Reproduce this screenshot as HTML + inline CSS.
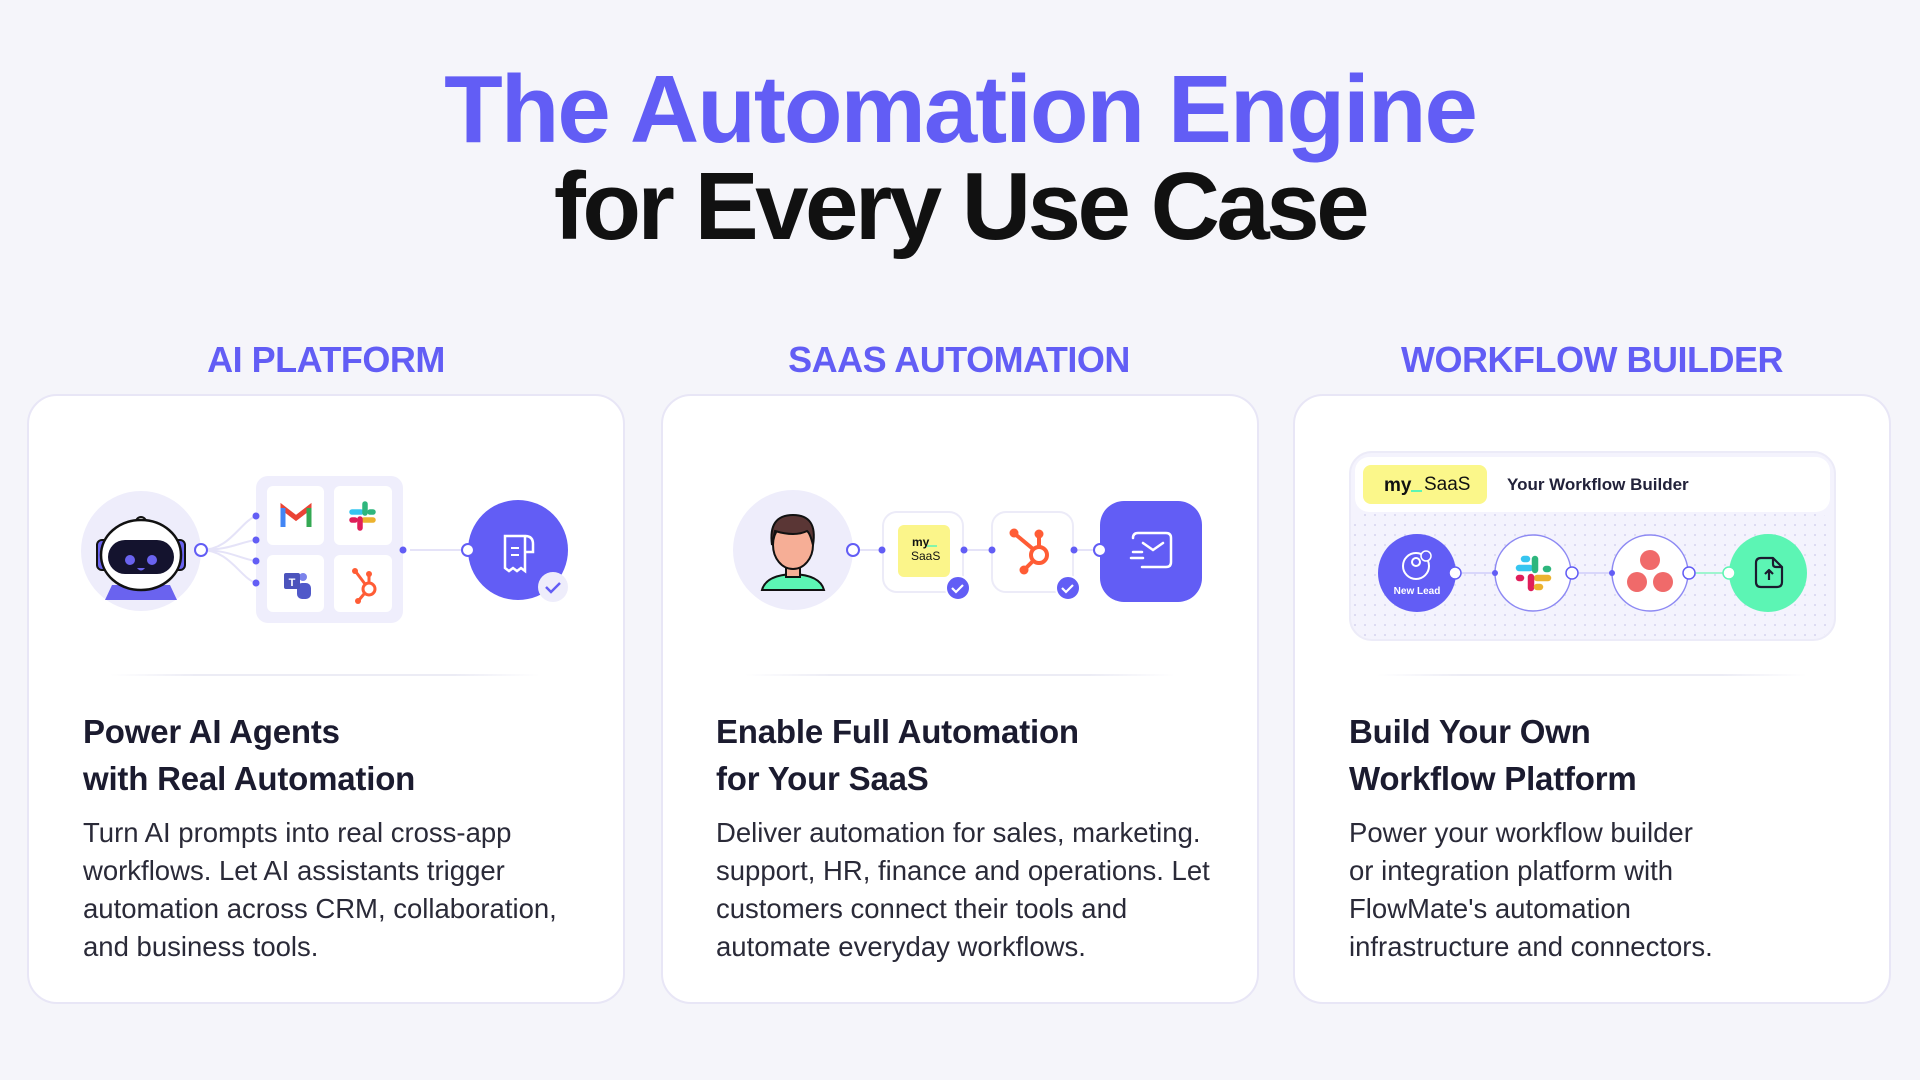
<!DOCTYPE html>
<html><head><meta charset="utf-8"><style>
*{margin:0;padding:0;box-sizing:border-box}
body{width:1920px;height:1080px;background:#f5f5fa;font-family:"Liberation Sans",sans-serif;position:relative;overflow:hidden}
.t{position:absolute;white-space:nowrap}
.title{left:0;width:1920px;text-align:center;font-weight:bold;font-size:96px;letter-spacing:-2px}
.sec{font-weight:bold;font-size:36px;color:#625df5;width:600px;text-align:center;letter-spacing:-0.5px}
.card{position:absolute;top:394px;width:598px;height:610px;background:#fff;border:2px solid #e8e6f6;border-radius:30px}
.h{font-weight:bold;font-size:33px;color:#1b1b2f;line-height:47px;letter-spacing:-0.2px}
.b{font-size:27.5px;color:#2a2a38;line-height:38px}
.div{position:absolute;top:674px;height:2px;background:linear-gradient(90deg,rgba(238,238,246,0),#ececf5 20%,#ececf5 80%,rgba(238,238,246,0))}
</style></head><body>
<div class="t title" style="top:55px;color:#625df5">The Automation Engine</div>
<div class="t title" style="top:152px;color:#111;letter-spacing:-3.5px">for Every Use Case</div>
<div class="t sec" style="left:26px;top:339px">AI PLATFORM</div>
<div class="t sec" style="left:659px;top:339px">SAAS AUTOMATION</div>
<div class="t sec" style="left:1292px;top:339px">WORKFLOW BUILDER</div>

<div class="card" style="left:27px"></div>
<div class="card" style="left:661px"></div>
<div class="card" style="left:1293px"></div>
<div class="div" style="left:110px;width:430px"></div>
<div class="div" style="left:745px;width:430px"></div>
<div class="div" style="left:1377px;width:430px"></div>

<svg style="position:absolute;left:0;top:0" width="1920" height="1080">
<defs>
<pattern id="dots" width="10" height="10" patternUnits="userSpaceOnUse"><circle cx="5" cy="5" r="1" fill="#d6d3ee"/></pattern>
</defs>
<!-- card1 -->
<circle cx="141" cy="551" r="60" fill="#eeedfb"/>
<g>
<rect x="97" y="540" width="12" height="30" rx="5" fill="#6a63ef" stroke="#111" stroke-width="2"/>
<rect x="173" y="540" width="12" height="30" rx="5" fill="#6a63ef" stroke="#111" stroke-width="2"/>
<path d="M105 600 L112 585 L170 585 L177 600 Z" fill="#6a63ef"/>
<circle cx="141" cy="522" r="5" fill="#fff" stroke="#111" stroke-width="2"/>
<ellipse cx="141" cy="555" rx="40" ry="35" fill="#fff" stroke="#111" stroke-width="2.5"/>
<rect x="108" y="540" width="66" height="34" rx="17" fill="#14132e"/>
<circle cx="130" cy="560" r="5" fill="#6a63ef"/><circle cx="152" cy="560" r="5" fill="#6a63ef"/>
<path d="M137 568 q4 5 8 0" fill="#6a63ef"/>
</g>
<path d="M201 550 C230 550 240 522 256 516 M201 550 C230 550 240 542 256 540 M201 550 C230 550 240 559 256 561 M201 550 C230 550 240 578 256 583" stroke="#e5e3f8" stroke-width="2" fill="none"/>
<circle cx="201" cy="550" r="6" fill="#fff" stroke="#625df5" stroke-width="2"/>
<rect x="256" y="476" width="147" height="147" rx="12" fill="#efeefc"/>
<rect x="267" y="486" width="57" height="59" rx="6" fill="#fff"/>
<rect x="334" y="486" width="58" height="59" rx="6" fill="#fff"/>
<rect x="267" y="555" width="57" height="57" rx="6" fill="#fff"/>
<rect x="334" y="555" width="58" height="57" rx="6" fill="#fff"/>
<!-- gmail -->
<path d="M283 527 V508 L296 518 L309 508 V527" fill="none" stroke="#ea4335" stroke-width="5"/>
<path d="M283 508 V527" stroke="#4285f4" stroke-width="5"/><path d="M309 508 V527" stroke="#34a853" stroke-width="5"/>
<!-- slack -->
<g stroke-linecap="round" stroke-width="5.5">
<line x1="352" y1="512" x2="361" y2="512" stroke="#36c5f0"/><line x1="365" y1="504" x2="365" y2="513" stroke="#2eb67d"/>
<line x1="373" y1="520" x2="364" y2="520" stroke="#ecb22e"/><line x1="360" y1="528" x2="360" y2="519" stroke="#e01e5a"/>
<line x1="352" y1="520" x2="355" y2="520" stroke="#e01e5a"/><line x1="373" y1="512" x2="370" y2="512" stroke="#2eb67d"/>
</g>
<!-- teams -->
<circle cx="303" cy="577" r="4" fill="#7b83eb"/><rect x="297" y="583" width="14" height="16" rx="5" fill="#5059c9"/>
<rect x="284" y="573" width="16" height="16" rx="2" fill="#4b53bc"/><text x="292" y="586" font-size="11" fill="#fff" text-anchor="middle" font-weight="bold">T</text>
<!-- hubspot -->
<g stroke="#ff5c35" stroke-width="3" fill="none"><circle cx="369" cy="589" r="6"/><line x1="356" y1="572" x2="365" y2="584"/><line x1="369" y1="583" x2="369" y2="575"/><line x1="364" y1="594" x2="359" y2="600"/></g>
<circle cx="355" cy="571" r="3" fill="#ff5c35"/><circle cx="369" cy="574" r="3" fill="#ff5c35"/><circle cx="358" cy="601" r="3" fill="#ff5c35"/>
<g fill="#625df5"><circle cx="256" cy="516" r="3.5"/><circle cx="256" cy="540" r="3.5"/><circle cx="256" cy="561" r="3.5"/><circle cx="256" cy="583" r="3.5"/><circle cx="403" cy="550" r="3.5"/></g>
<line x1="410" y1="550" x2="468" y2="550" stroke="#e5e3f8" stroke-width="2"/>
<circle cx="518" cy="550" r="50" fill="#625df5"/>
<circle cx="468" cy="550" r="6" fill="#fff" stroke="#625df5" stroke-width="2"/>
<path d="M505 536 h20 v35 l-4 -3 -4 3 -4 -3 -4 3 -4 -3 z M525 536 q8 0 8 8 v8 h-8" fill="none" stroke="#fff" stroke-width="2.5"/>
<line x1="511" y1="548" x2="519" y2="548" stroke="#fff" stroke-width="2"/><line x1="511" y1="555" x2="519" y2="555" stroke="#fff" stroke-width="2"/>
<circle cx="553" cy="587" r="15" fill="#eeedfb"/><path d="M546 587 l5 5 l9 -9" stroke="#625df5" stroke-width="2.5" fill="none"/>

<!-- card2 -->
<circle cx="793" cy="550" r="60" fill="#eeedfb"/>
<path d="M762 590 q4 -15 31 -16 q27 1 31 16 z" fill="#5cf5b4" stroke="#111" stroke-width="2"/>
<rect x="786" y="565" width="14" height="12" fill="#f6ae96" stroke="#111" stroke-width="2"/>
<ellipse cx="793" cy="545" rx="20" ry="24" fill="#f6ae96" stroke="#111" stroke-width="2"/>
<path d="M772 545 q-4 -30 21 -30 q25 0 20 30 q-3 -12 -6 -14 q-12 6 -32 0 z" fill="#5a3635" stroke="#111" stroke-width="2"/>
<line x1="853" y1="550" x2="963" y2="550" stroke="#e5e3f8" stroke-width="2"/>
<line x1="963" y1="550" x2="1100" y2="550" stroke="#e5e3f8" stroke-width="2"/>
<circle cx="853" cy="550" r="6" fill="#fff" stroke="#625df5" stroke-width="2"/>
<rect x="883" y="512" width="80" height="80" rx="14" fill="#fff" stroke="#ecebf8" stroke-width="2"/>
<rect x="898" y="525" width="52" height="52" rx="6" fill="#fbf58a"/>
<text x="912" y="546" font-size="12" font-weight="bold" fill="#111">my</text><line x1="927" y1="546" x2="937" y2="546" stroke="#5cf5b4" stroke-width="1.5"/>
<text x="911" y="560" font-size="12" fill="#111">SaaS</text>
<rect x="992" y="512" width="81" height="80" rx="14" fill="#fff" stroke="#ecebf8" stroke-width="2"/>
<g stroke="#ff5c35" stroke-width="4" fill="none"><circle cx="1039" cy="555" r="8"/><line x1="1015" y1="534" x2="1033" y2="549"/><line x1="1039" y1="547" x2="1039" y2="535"/><line x1="1033" y1="561" x2="1025" y2="569"/></g>
<circle cx="1014" cy="533" r="4.5" fill="#ff5c35"/><circle cx="1039" cy="534" r="4.5" fill="#ff5c35"/><circle cx="1024" cy="570" r="4.5" fill="#ff5c35"/>
<g fill="#625df5"><circle cx="882" cy="550" r="3.5"/><circle cx="964" cy="550" r="3.5"/><circle cx="992" cy="550" r="3.5"/><circle cx="1074" cy="550" r="3.5"/></g>
<circle cx="958" cy="588" r="12" fill="#625df5" stroke="#fff" stroke-width="2"/><path d="M952 588 l4 4 l7 -7" stroke="#fff" stroke-width="2.2" fill="none"/>
<circle cx="1068" cy="588" r="12" fill="#625df5" stroke="#fff" stroke-width="2"/><path d="M1062 588 l4 4 l7 -7" stroke="#fff" stroke-width="2.2" fill="none"/>
<rect x="1100" y="501" width="102" height="101" rx="24" fill="#625df5"/>
<circle cx="1100" cy="550" r="6" fill="#fff" stroke="#625df5" stroke-width="2"/>
<path d="M1133 538 q0 -5 5 -5 h28 q5 0 5 5 v24 q0 5 -5 5 h-24 M1143 543 l10 7 l10 -7 M1133 552 h9 M1131 558 h12" stroke="#fff" stroke-width="2.5" fill="none" stroke-linecap="round"/>

<!-- card3 -->
<rect x="1350" y="452" width="485" height="188" rx="22" fill="#f4f3fd" stroke="#ecebf8" stroke-width="2"/>
<rect x="1352" y="512" width="481" height="126" rx="20" fill="url(#dots)"/>
<rect x="1355" y="457" width="475" height="55" fill="#fff" rx="14"/>
<rect x="1363" y="465" width="124" height="39" rx="8" fill="#fbf78a"/>
<text x="1384" y="491" font-size="19" font-weight="bold" fill="#111">my</text><line x1="1411" y1="491" x2="1422" y2="491" stroke="#5cf5b4" stroke-width="2"/>
<text x="1424" y="490" font-size="19" fill="#111">SaaS</text>
<text x="1507" y="490" font-size="17" font-weight="bold" fill="#22223a">Your Workflow Builder</text>
<line x1="1455" y1="573" x2="1729" y2="573" stroke="#d9d7fb" stroke-width="2"/>
<line x1="1689" y1="573" x2="1729" y2="573" stroke="#9ff5cf" stroke-width="2"/>
<circle cx="1417" cy="573" r="39" fill="#625df5"/>
<circle cx="1416" cy="566" r="13" fill="none" stroke="#fff" stroke-width="2"/><circle cx="1416" cy="562" r="4" fill="none" stroke="#fff" stroke-width="2"/>
<circle cx="1426" cy="556" r="5" fill="#625df5" stroke="#fff" stroke-width="1.5"/>
<text x="1417" y="594" font-size="10" font-weight="bold" fill="#fff" text-anchor="middle">New Lead</text>
<circle cx="1533" cy="573" r="38" fill="#fff" stroke="#8d89f3" stroke-width="1.5"/>
<g stroke-linecap="round" stroke-width="6.5">
<line x1="1519" y1="568" x2="1530" y2="568" stroke="#36c5f0"/><line x1="1535" y1="559" x2="1535" y2="570" stroke="#2eb67d"/>
<line x1="1548" y1="578" x2="1537" y2="578" stroke="#ecb22e"/><line x1="1531" y1="588" x2="1531" y2="577" stroke="#e01e5a"/>
<line x1="1519" y1="578" x2="1521" y2="578" stroke="#e01e5a"/><line x1="1548" y1="569" x2="1546" y2="569" stroke="#2eb67d"/>
<line x1="1524" y1="559" x2="1527" y2="559" stroke="#36c5f0"/><line x1="1537" y1="587" x2="1540" y2="587" stroke="#ecb22e"/>
</g>
<circle cx="1650" cy="573" r="38" fill="#fff" stroke="#8d89f3" stroke-width="1.5"/>
<circle cx="1650" cy="560" r="10" fill="#f06a6a"/><circle cx="1637" cy="582" r="10" fill="#f06a6a"/><circle cx="1663" cy="582" r="10" fill="#f06a6a"/>
<circle cx="1768" cy="573" r="39" fill="#5cf5b4"/>
<path d="M1756 563 q0 -5 5 -5 h12 l9 9 v15 q0 5 -5 5 h-16 q-5 0 -5 -5 z M1773 558 v6 q0 3 3 3 h6 M1769 580 v-10 M1765 574 l4 -4 l4 4" fill="none" stroke="#1b1b2f" stroke-width="2.2" stroke-linejoin="round"/>
<circle cx="1455" cy="573" r="6" fill="#fff" stroke="#625df5" stroke-width="1.5"/>
<circle cx="1495" cy="573" r="3" fill="#625df5"/>
<circle cx="1572" cy="573" r="6" fill="#fff" stroke="#625df5" stroke-width="1.5"/>
<circle cx="1612" cy="573" r="3" fill="#625df5"/>
<circle cx="1689" cy="573" r="6" fill="#fff" stroke="#625df5" stroke-width="1.5"/>
<circle cx="1729" cy="573" r="6" fill="#fff" stroke="#5cf5b4" stroke-width="1.5"/>
</svg>

<div class="t h" style="left:83px;top:708px">Power AI Agents<br>with Real Automation</div>
<div class="t b" style="left:83px;top:814px">Turn AI prompts into real cross-app<br>workflows. Let AI assistants trigger<br>automation across CRM, collaboration,<br>and business tools.</div>
<div class="t h" style="left:716px;top:708px">Enable Full Automation<br>for Your SaaS</div>
<div class="t b" style="left:716px;top:814px">Deliver automation for sales, marketing.<br>support, HR, finance and operations. Let<br>customers connect their tools and<br>automate everyday workflows.</div>
<div class="t h" style="left:1349px;top:708px">Build Your Own<br>Workflow Platform</div>
<div class="t b" style="left:1349px;top:814px">Power your workflow builder<br>or integration platform with<br>FlowMate's automation<br>infrastructure and connectors.</div>
</body></html>
